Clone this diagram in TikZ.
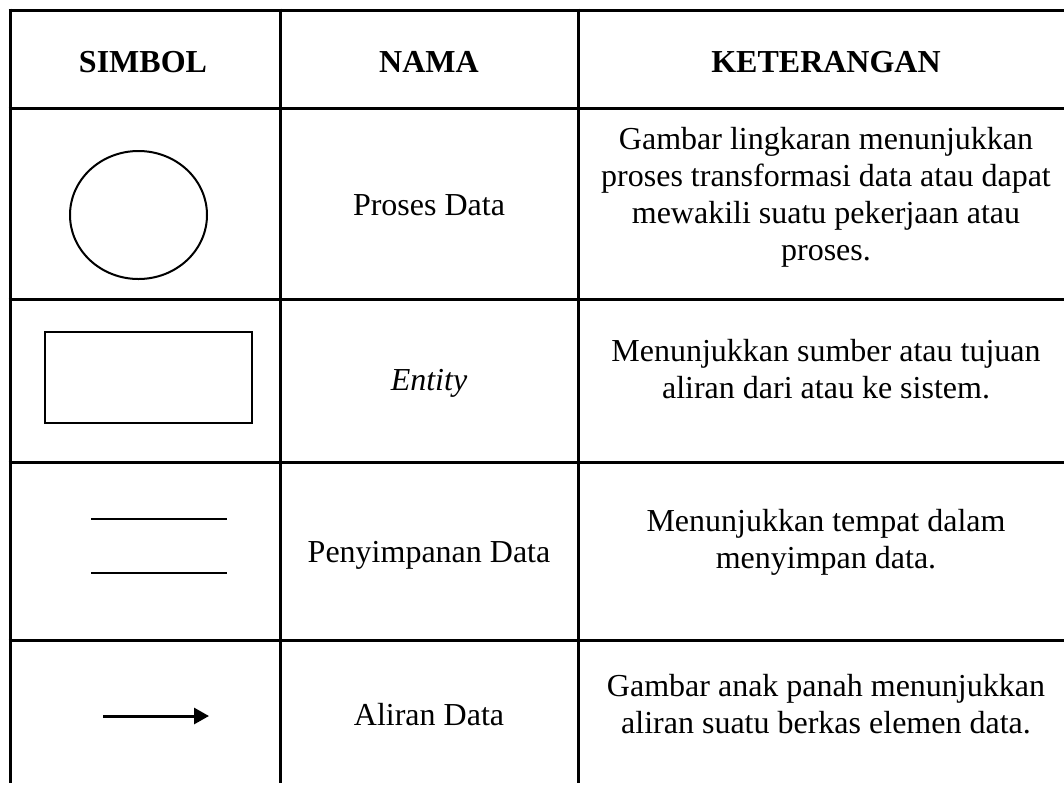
\documentclass[tikz,border=0pt]{standalone}
\usepackage{fontspec}
\setmainfont{Liberation Serif}
\usetikzlibrary{arrows.meta}
\begin{document}
\begin{tikzpicture}[x=1pt,y=-1pt,
  rule/.style={line width=3pt},
  symline/.style={line width=2pt},
  headtext/.style={font=\fontsize{32}{36.7}\selectfont\bfseries, anchor=base, inner sep=0pt},
  celltext/.style={font=\fontsize{32}{36.7}\selectfont, anchor=base, inner sep=0pt, align=center}]
\useasboundingbox (0,0) rectangle (1064,785);
\fill[white] (0,0) rectangle (1064,785);

% table rules
\foreach \y in {10,108,299,462,640} \draw[rule] (8.5,\y) -- (1064,\y);
\foreach \x in {10,280,578} \draw[rule] (\x,8.5) -- (\x,783);

% header row
\node[headtext] (hSimbol) at (143,72) {SIMBOL};
\node[headtext] (hNama) at (429,72) {NAMA};
\node[headtext] (hKet) at (826,72) {KETERANGAN};

% symbols
\draw[symline] (138.5,215) ellipse [x radius=68.5, y radius=64];
\draw[symline] (45,332) rectangle (252,423);
\coordinate (s1L) at (91,519); \coordinate (s1R) at (227,519);
\coordinate (s2L) at (91,573); \coordinate (s2R) at (227,573);
\draw[line width=2.5pt] (s1L) -- (s1R);
\draw[line width=2.5pt] (s2L) -- (s2R);
\coordinate (aL) at (103,716); \coordinate (aR) at (209,716);
\draw[line width=3pt, -{Triangle[length=15pt,width=16pt]}] (aL) -- (aR);

% names
\node[celltext] (n1) at (429,215) {Proses Data};
\node[celltext] (n2) at (429,390) {\itshape Entity};
\node[celltext] (n3) at (429,562) {Penyimpanan Data};
\node[celltext] (n4) at (429,725) {Aliran Data};

% descriptions (base anchor sits on the last line)
\node[celltext] (d1) at (826,260) {Gambar lingkaran menunjukkan\\proses transformasi data atau dapat\\mewakili suatu pekerjaan atau\\proses.};
\node[celltext] (d2) at (826,398.5) {Menunjukkan sumber atau tujuan\\aliran dari atau ke sistem.};
\node[celltext] (d3) at (826,568.5) {Menunjukkan tempat dalam\\menyimpan data.};
\node[celltext] (d4) at (826,733.5) {Gambar anak panah menunjukkan\\aliran suatu berkas elemen data.};
\end{tikzpicture}
\end{document}
